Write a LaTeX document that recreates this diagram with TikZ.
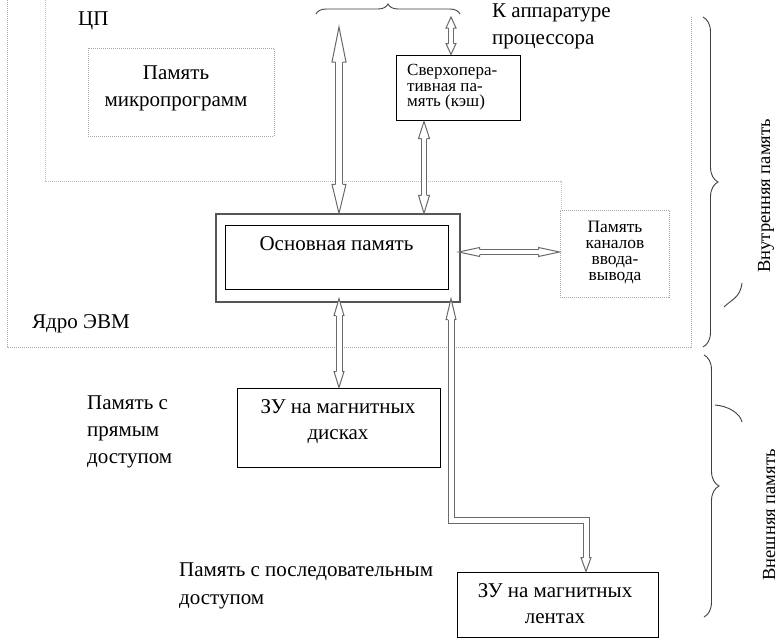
\documentclass[tikz,border=0pt]{standalone}
\usepackage{fontspec}
\setmainfont{Liberation Serif}
\usetikzlibrary{decorations.pathreplacing}
\definecolor{arrgray}{HTML}{6A6A6A}
\definecolor{boxgray}{HTML}{555555}
\definecolor{dotgray}{HTML}{A8A8A8}
\definecolor{linegray}{HTML}{BDBDBD}
\definecolor{bracegray}{HTML}{404040}

% arrow heads: #1 tip coordinate name, #2 head length, #3 head half-width, #4 shaft half-width
\newcommand\headup[4]{%
  \fill[white] ([shift={(-#4,#2)}]#1) -- ([shift={(-#3,#2)}]#1) -- (#1) -- ([shift={(#3,#2)}]#1) -- ([shift={(#4,#2)}]#1) -- cycle;
  \draw[arrline] ([shift={(-#4,#2)}]#1) -- ([shift={(-#3,#2)}]#1) -- (#1) -- ([shift={(#3,#2)}]#1) -- ([shift={(#4,#2)}]#1);}
\newcommand\headdown[4]{%
  \fill[white] ([shift={(-#4,-#2)}]#1) -- ([shift={(-#3,-#2)}]#1) -- (#1) -- ([shift={(#3,-#2)}]#1) -- ([shift={(#4,-#2)}]#1) -- cycle;
  \draw[arrline] ([shift={(-#4,-#2)}]#1) -- ([shift={(-#3,-#2)}]#1) -- (#1) -- ([shift={(#3,-#2)}]#1) -- ([shift={(#4,-#2)}]#1);}
\newcommand\headleft[4]{%
  \fill[white] ([shift={(#2,-#4)}]#1) -- ([shift={(#2,-#3)}]#1) -- (#1) -- ([shift={(#2,#3)}]#1) -- ([shift={(#2,#4)}]#1) -- cycle;
  \draw[arrline] ([shift={(#2,-#4)}]#1) -- ([shift={(#2,-#3)}]#1) -- (#1) -- ([shift={(#2,#3)}]#1) -- ([shift={(#2,#4)}]#1);}
\newcommand\headright[4]{%
  \fill[white] ([shift={(-#2,-#4)}]#1) -- ([shift={(-#2,-#3)}]#1) -- (#1) -- ([shift={(-#2,#3)}]#1) -- ([shift={(-#2,#4)}]#1) -- cycle;
  \draw[arrline] ([shift={(-#2,-#4)}]#1) -- ([shift={(-#2,-#3)}]#1) -- (#1) -- ([shift={(-#2,#3)}]#1) -- ([shift={(-#2,#4)}]#1);}
% vertical double arrow: #1 top, #2 bottom (coordinate names), #3 top head length, #4 bottom head length, #5 head half-width, #6 shaft half-width
\newcommand\varrow[6]{%
  \fill[white] ([shift={(-#6,#3)}]#1) rectangle ([shift={(#6,-#4)}]#2);
  \draw[arrline] ([shift={(-#6,#3)}]#1) -- ([shift={(-#6,-#4)}]#2);
  \draw[arrline] ([shift={(#6,#3)}]#1) -- ([shift={(#6,-#4)}]#2);
  \headup{#1}{#3}{#5}{#6}\headdown{#2}{#4}{#5}{#6}}
% horizontal double arrow: #1 left, #2 right
\newcommand\harrow[6]{%
  \fill[white] ([shift={(#3,-#6)}]#1) rectangle ([shift={(-#4,#6)}]#2);
  \draw[arrline] ([shift={(#3,-#6)}]#1) -- ([shift={(-#4,-#6)}]#2);
  \draw[arrline] ([shift={(#3,#6)}]#1) -- ([shift={(-#4,#6)}]#2);
  \headleft{#1}{#3}{#5}{#6}\headright{#2}{#4}{#5}{#6}}

\begin{document}
\begin{tikzpicture}[x=1pt,y=-1pt,
  txt/.style={inner sep=0pt, font=\fontsize{21}{26.5}\selectfont, align=center},
  small/.style={inner sep=0pt, font=\fontsize{17}{15.5}\selectfont, align=center},
  vtxt/.style={inner sep=0pt, font=\fontsize{18.5}{20}\selectfont, rotate=90, anchor=base},
  box/.style={draw=black, line width=1pt, inner sep=0pt},
  dotbox/.style={draw=dotgray, line width=1pt, dash pattern=on 1pt off 1pt, inner sep=0pt},
  coreline/.style={draw=dotgray, line width=1pt, dash pattern=on 1pt off 1pt},
  cpuline/.style={draw=linegray, line width=1pt, dash pattern=on 1pt off 1pt},
  arrline/.style={draw=arrgray, line width=1pt, line join=miter},
  bracestyle/.style={draw=bracegray, line width=0.9pt, decorate, decoration={brace, amplitude=#1, aspect=0.5}},
]
\useasboundingbox (0,0) rectangle (780,640);
\fill[white] (0,0) rectangle (780,640);

% core and CPU borders
\draw[coreline] (7,0) -- (7,347) -- (691,347) -- (691,17);
\node[dotbox, minimum width=109pt, minimum height=87pt] (chan) at (614.5,253.5) {};
\coordinate (cpuCorner) at (561,181);
\draw[cpuline] (45,0) -- (45,181) -- (cpuCorner) -- (cpuCorner |- chan.north);

% boxes
\node[dotbox, minimum width=186pt, minimum height=88pt] (micro) at (181,92) {};
\node[box, minimum width=124pt, minimum height=65pt] (cache) at (458,87.5) {};
\node[draw=boxgray, line width=1.3pt, inner sep=0pt, minimum width=244pt, minimum height=88pt] (main) at (338,258) {};
\node[box, minimum width=223pt, minimum height=64pt] (maininner) at (336.5,257) {};
\node[box, minimum width=203pt, minimum height=79pt] (disk) at (338.5,427.5) {};
\node[box, minimum width=201pt, minimum height=65pt] (tape) at (557.5,604.5) {};

% texts
\node[txt, anchor=base west] (cpu) at (78,25) {ЦП};
\node[txt, anchor=base west] (core) at (32,328) {Ядро ЭВМ};
\node[txt, anchor=north] (microtxt) at (176,66) {Память\\микропрограмм};
\node[small, anchor=north west, align=left] (cachetxt) at (407,64.5) {Сверхопера-\\тивная па-\\мять (кэш)};
\node[txt, anchor=north west, align=left] (proc) at (492,4) {К аппаратуре\\процессора};
\node[txt, anchor=base] (maintxt) at (336.5,250) {Основная память};
\node[small, anchor=north, font=\fontsize{17.4}{16.3}\selectfont] (chantxt) at (615,220.5) {Память\\каналов\\ввода-\\вывода};
\node[txt, anchor=north] (disktxt) at (338,399) {ЗУ на магнитных\\дисках};
\node[txt, anchor=north] (tapetxt) at (555,583) {ЗУ на магнитных\\лентах};
\node[txt, anchor=north west, align=left, font=\fontsize{21}{27}\selectfont] (direct) at (87,396) {Память с\\прямым\\доступом};
\node[txt, anchor=north west, align=left, font=\fontsize{21}{28}\selectfont] (seq) at (179,563) {Память с последовательным\\доступом};
\node[vtxt] (internal) at (770,196) {Внутренняя память};
\node[vtxt] (external) at (775,515) {Внешняя память};

% braces
\coordinate (tbL) at (316,14);
\coordinate (tbR) at (460,14);
\draw[bracestyle=10] (tbL) -- (tbR);
\coordinate (rb1t) at (703,17);
\coordinate (rb1b) at (703,347);
\draw[bracestyle=15] (rb1t) -- (rb1b);
\coordinate (rb2t) at (704,355);
\coordinate (rb2b) at (704,617);
\draw[bracestyle=15] (rb2t) -- (rb2b);
% stray strokes
\draw[bracegray, line width=0.9pt] (742,283) .. controls (740,298) and (732,299) .. (724,307);
\draw[bracegray, line width=0.9pt] (715,405) .. controls (728,406) and (740,413) .. (742,422);

% arrow guides and ends
\coordinate (xbus) at (339,0);
\coordinate (xcm) at (424,0);
\coordinate (xct) at (451,0);
\coordinate (xtape) at (586,0);
\coordinate (busTop) at (339,27);
\coordinate (procIn) at (451,17);
\coordinate (bendA) at (451,520);
\coordinate (bendB) at (586,520);
\coordinate (y252) at (0,252);
\coordinate (a1b) at (xbus |- main.north);
\coordinate (a2b) at (xct |- cache.north);
\path (xcm |- cache.south) ++(0,1) coordinate (a3t);
\coordinate (a3b) at (xcm |- main.north);
\path (main.east |- y252) ++(-2,0) coordinate (a4l);
\coordinate (a4r) at (chan.west |- y252);
\path (xbus |- main.south) ++(0,-4) coordinate (a5t);
\coordinate (a5b) at (xbus |- disk.north);
\path (bendA |- main.south) ++(0,-4) coordinate (a6t);
\coordinate (a6b) at (xtape |- tape.north);

% arrows
\varrow{busTop}{a1b}{35}{29}{7}{3.5}
\varrow{procIn}{a2b}{11}{11}{5}{2.5}
\varrow{a3t}{a3b}{17}{18}{5.5}{2.5}
\harrow{a4l}{a4r}{21}{21}{4.5}{2.5}
\varrow{a5t}{a5b}{17}{16}{5}{3}
% bent arrow to tapes
\fill[white] ([shift={(-3,21)}]a6t) rectangle ([shift={(3,3)}]bendA);
\draw[arrline] ([shift={(-3,21)}]a6t) -- ([shift={(-3,3)}]bendA) -- ([shift={(-3,3)}]bendB) -- ([shift={(-3,-14)}]a6b);
\draw[arrline] ([shift={(3,21)}]a6t) -- ([shift={(3,-3)}]bendA) -- ([shift={(3,-3)}]bendB) -- ([shift={(3,-14)}]a6b);
\headup{a6t}{21}{5}{3}
\headdown{a6b}{14}{5}{3}
\end{tikzpicture}
\end{document}
